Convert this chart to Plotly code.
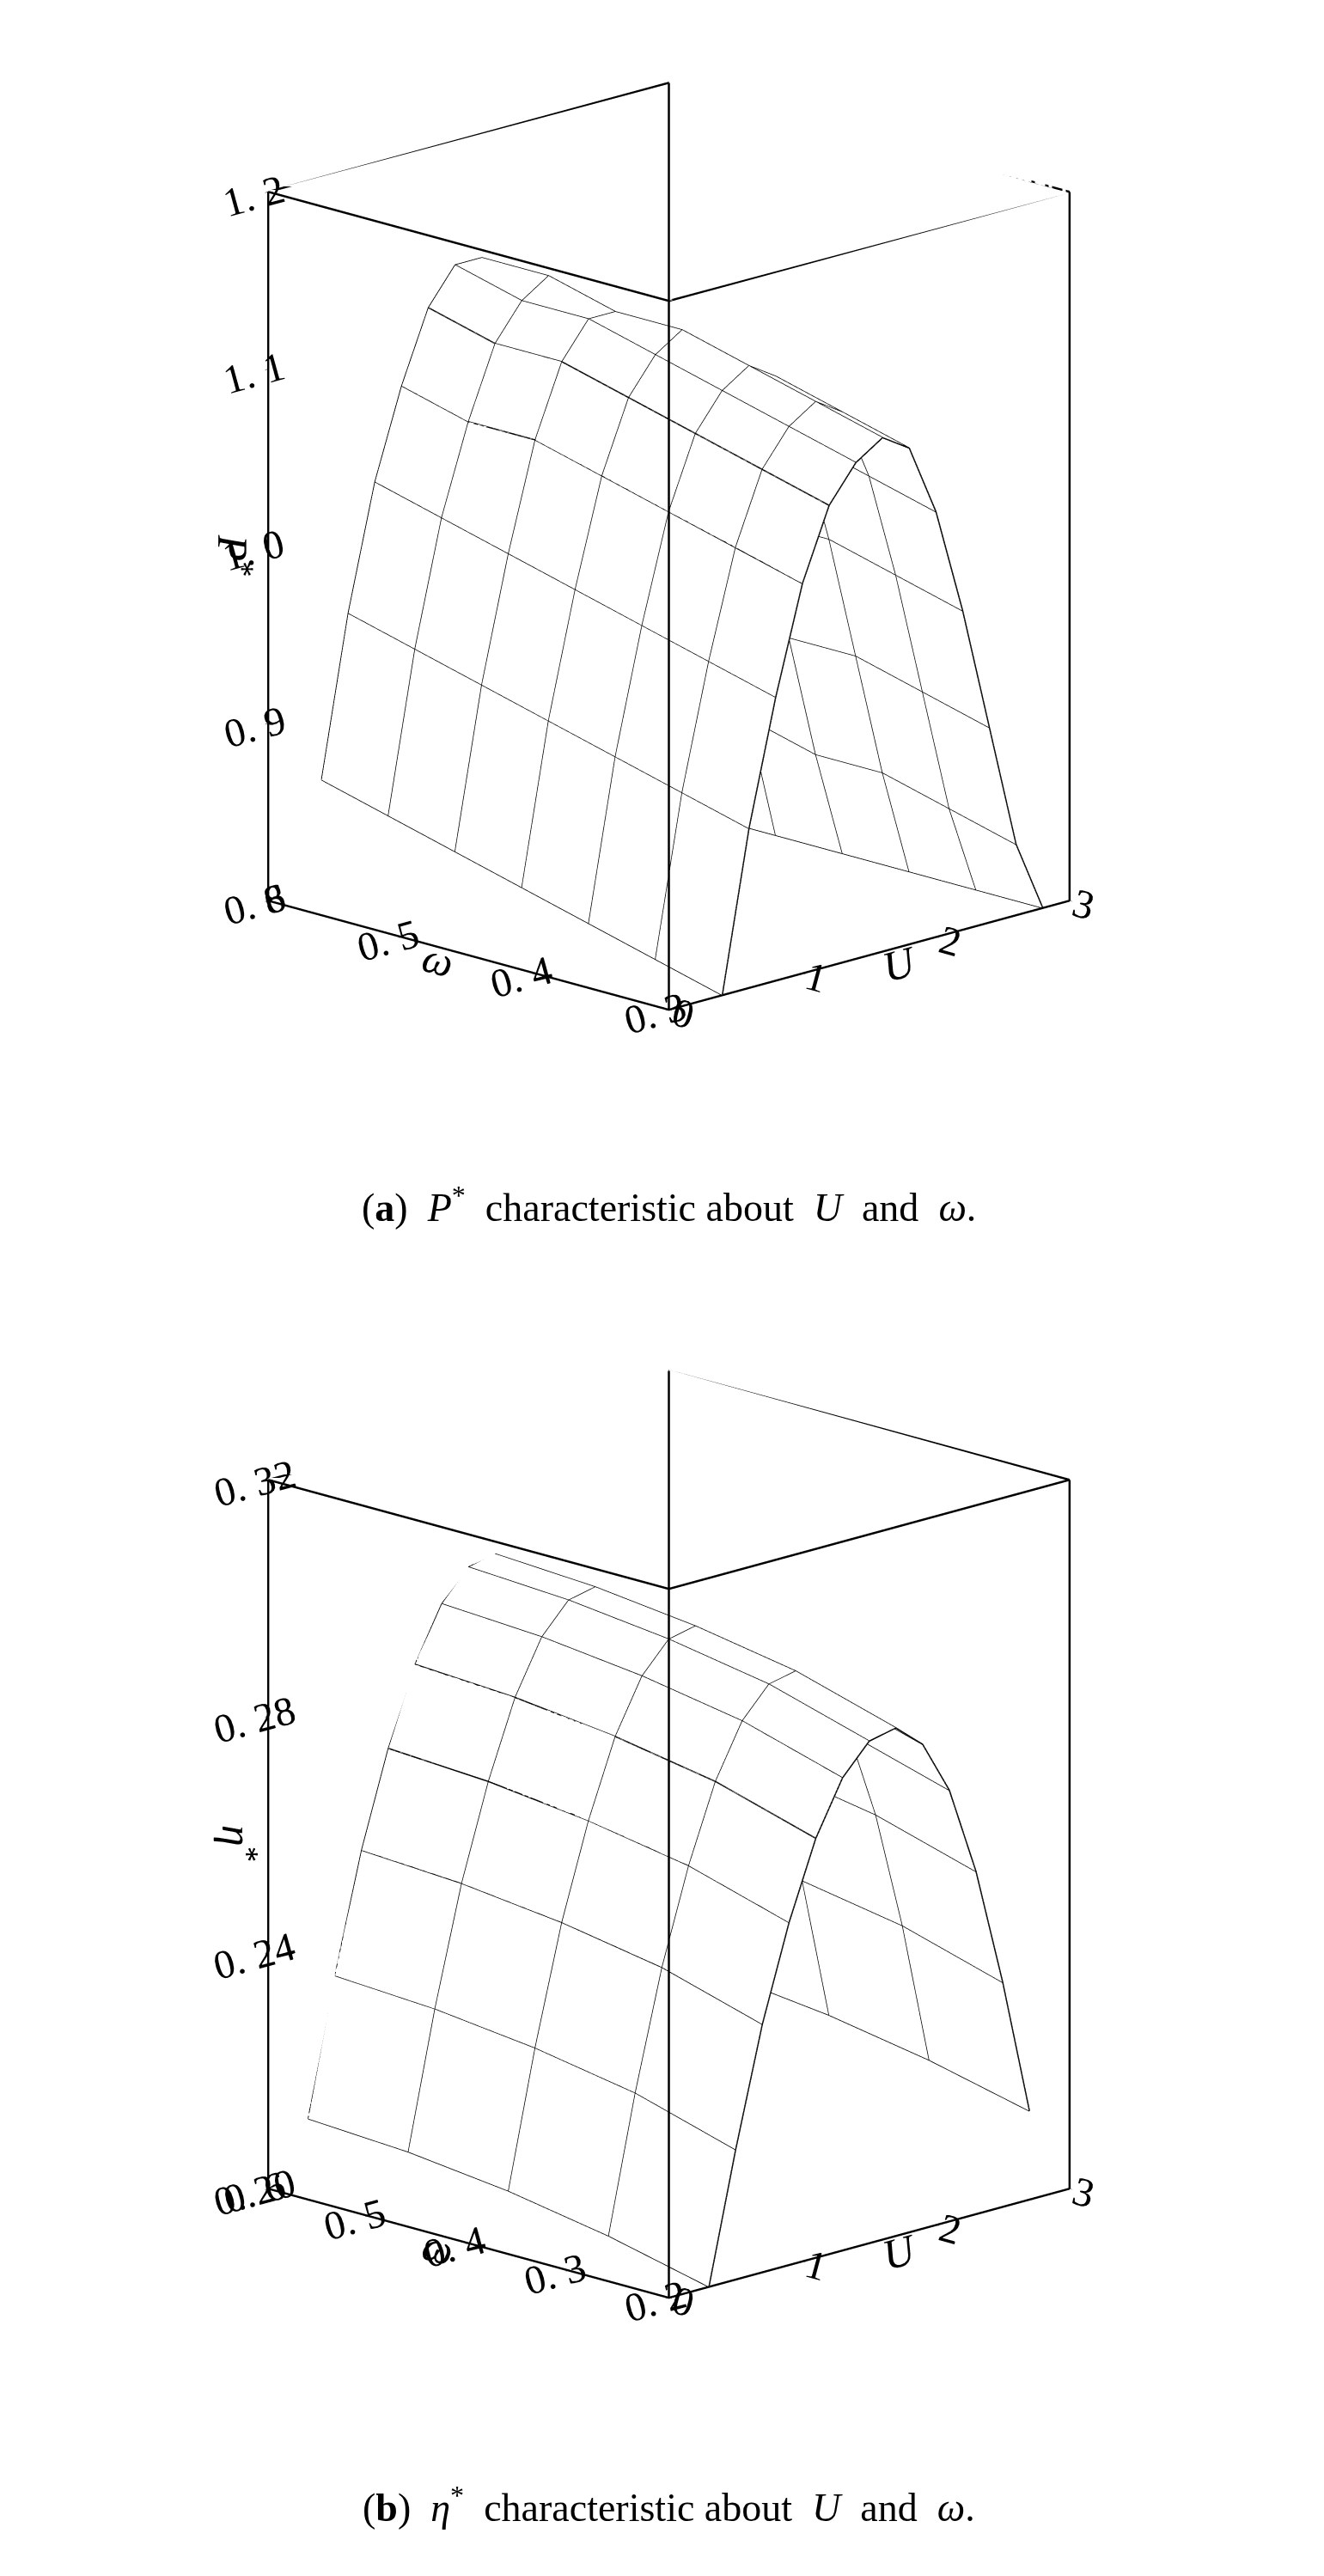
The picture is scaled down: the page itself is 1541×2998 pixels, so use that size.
import plotly.graph_objects as go

# ---- data ----
u_a = [0.4,0.6,0.8,1.0,1.2,1.4,1.6,1.8,2.0,2.2,2.4,2.6,2.8]
w_a = [0.30,0.35,0.40,0.45,0.50,0.55,0.60]
p_a = [
 [0.80,0.89,0.96,1.02,1.06,1.08,1.09,1.08,1.04,0.98,0.91,0.84,0.80],
 [0.81,0.90,0.97,1.03,1.07,1.09,1.10,1.09,1.05,0.99,0.92,0.85,0.80],
 [0.82,0.91,0.98,1.04,1.08,1.10,1.11,1.10,1.06,1.00,0.93,0.86,0.80],
 [0.83,0.92,0.99,1.05,1.09,1.11,1.12,1.10,1.06,1.00,0.93,0.86,0.80],
 [0.84,0.93,1.00,1.06,1.10,1.12,1.12,1.11,1.07,1.01,0.94,0.87,0.80],
 [0.85,0.94,1.01,1.06,1.10,1.12,1.13,1.11,1.07,1.01,0.94,0.87,0.80],
 [0.86,0.95,1.02,1.07,1.11,1.13,1.13,1.11,1.07,1.01,0.94,0.87,0.80],
]
u_b = [0.3,0.5,0.7,0.9,1.1,1.3,1.5,1.7,1.9,2.1,2.3,2.5,2.7]
w_b = [0.2,0.3,0.4,0.5,0.6]
e_b = [
 [0.200,0.222,0.242,0.258,0.271,0.280,0.285,0.286,0.282,0.273,0.258,0.238,0.215],
 [0.204,0.227,0.247,0.263,0.276,0.285,0.290,0.291,0.287,0.278,0.263,0.243,0.219],
 [0.207,0.230,0.250,0.266,0.279,0.288,0.293,0.294,0.290,0.281,0.266,0.246,0.222],
 [0.209,0.232,0.252,0.268,0.281,0.290,0.295,0.296,0.292,0.283,0.268,0.248,0.224],
 [0.210,0.233,0.253,0.269,0.282,0.291,0.296,0.297,0.293,0.284,0.269,0.249,0.225],
]
pz_ticks = [0.8,0.9,1.0,1.1,1.2]; pz_text = ["0. 8","0. 9","1. 0","1. 1","1. 2"]
pw_ticks = [0.3,0.4,0.5,0.6]; pw_text = ["0. 3","0. 4","0. 5","0. 6"]
ez_ticks = [0.20,0.24,0.28,0.32]; ez_text = ["0. 20","0. 24","0. 28","0. 32"]
ew_ticks = [0.2,0.3,0.4,0.5,0.6]; ew_text = ["0. 2","0. 3","0. 4","0. 5","0. 6"]
u_ticks = [0,1,2,3]

SERIF = "Liberation Serif"
fig = go.Figure()

def add_wire(x, y, z, scene):
    fig.add_trace(go.Surface(x=x, y=y, z=z, scene=scene, showscale=False,
        colorscale=[[0,"white"],[1,"white"]], hoverinfo="skip",
        lighting=dict(ambient=1, diffuse=0, specular=0, fresnel=0)))
    for j, yv in enumerate(y):
        fig.add_trace(go.Scatter3d(x=x, y=[yv]*len(x), z=z[j], scene=scene, mode="lines",
                                   line=dict(color="black", width=3), hoverinfo="skip"))
    for i, xv in enumerate(x):
        fig.add_trace(go.Scatter3d(x=[xv]*len(y), y=y, z=[row[i] for row in z], scene=scene,
                                   mode="lines", line=dict(color="black", width=3), hoverinfo="skip"))

def add_box(scene, w0, w1, z0, z1):
    X = [0, 0, None, 3, 3, None, 0, 3, 3, 0, 0, None, 3, 3]
    Y = [w0, w0, None, w0, w0, None, w0, w0, w1, w1, w0, None, w1, w1]
    Z = [z0, z1, None, z0, z1, None, z1, z1, z1, z1, z1, None, z0, z1]
    fig.add_trace(go.Scatter3d(x=X, y=Y, z=Z, scene=scene, mode="lines",
                               line=dict(color="black", width=5), hoverinfo="skip"))

add_wire(u_a, w_a, p_a, "scene")
add_box("scene", 0.3, 0.6, 0.8, 1.2)
add_wire(u_b, w_b, e_b, "scene2")
add_box("scene2", 0.2, 0.6, 0.20, 0.32)

def ax(title, rng, tv, tt):
    return dict(title=dict(text=title, font=dict(family=SERIF, size=50, color="black")),
                range=rng, tickvals=tv, ticktext=tt, showgrid=False,
                showbackground=False, showline=True, linecolor="black", linewidth=5,
                zeroline=False, ticks="outside", tickcolor="black",
                tickfont=dict(family=SERIF, size=24, color="black"), showspikes=False)

cam = dict(eye=dict(x=-1.25, y=-1.25, z=0.45), center=dict(x=0, y=0, z=-0.05),
           projection=dict(type="orthographic"))
fig.update_layout(
    width=1541, height=2998, paper_bgcolor="white", showlegend=False,
    margin=dict(l=0, r=0, t=0, b=0),
    scene=dict(domain=dict(x=[0,1], y=[0.56,1.0]),
               xaxis=ax("<i>U</i>", [0,3], u_ticks, [str(t) for t in u_ticks]),
               yaxis=ax("<i>ω</i>", [0.3,0.6], pw_ticks, pw_text),
               zaxis=ax("<i>P</i><sup>*</sup>", [0.8,1.2], pz_ticks, pz_text),
               aspectmode="manual", aspectratio=dict(x=1, y=1, z=1.3), camera=cam),
    scene2=dict(domain=dict(x=[0,1], y=[0.06,0.5]),
               xaxis=ax("<i>U</i>", [0,3], u_ticks, [str(t) for t in u_ticks]),
               yaxis=ax("<i>ω</i>", [0.2,0.6], ew_ticks, ew_text),
               zaxis=ax("<i>η</i><sup>*</sup>", [0.20,0.32], ez_ticks, ez_text),
               aspectmode="manual", aspectratio=dict(x=1, y=1, z=1.3), camera=cam),
    annotations=[
        dict(text="(<b>a</b>)  <i>P</i><sup>*</sup>  characteristic about  <i>U</i>  and  <i>ω</i>.",
             x=0.5, y=0.535, xref="paper", yref="paper", showarrow=False,
             font=dict(family=SERIF, size=46, color="black")),
        dict(text="(<b>b</b>)  <i>η</i><sup>*</sup>  characteristic about  <i>U</i>  and  <i>ω</i>.",
             x=0.5, y=0.02, xref="paper", yref="paper", showarrow=False,
             font=dict(family=SERIF, size=46, color="black")),
    ])
fig.write_html("out.html")
